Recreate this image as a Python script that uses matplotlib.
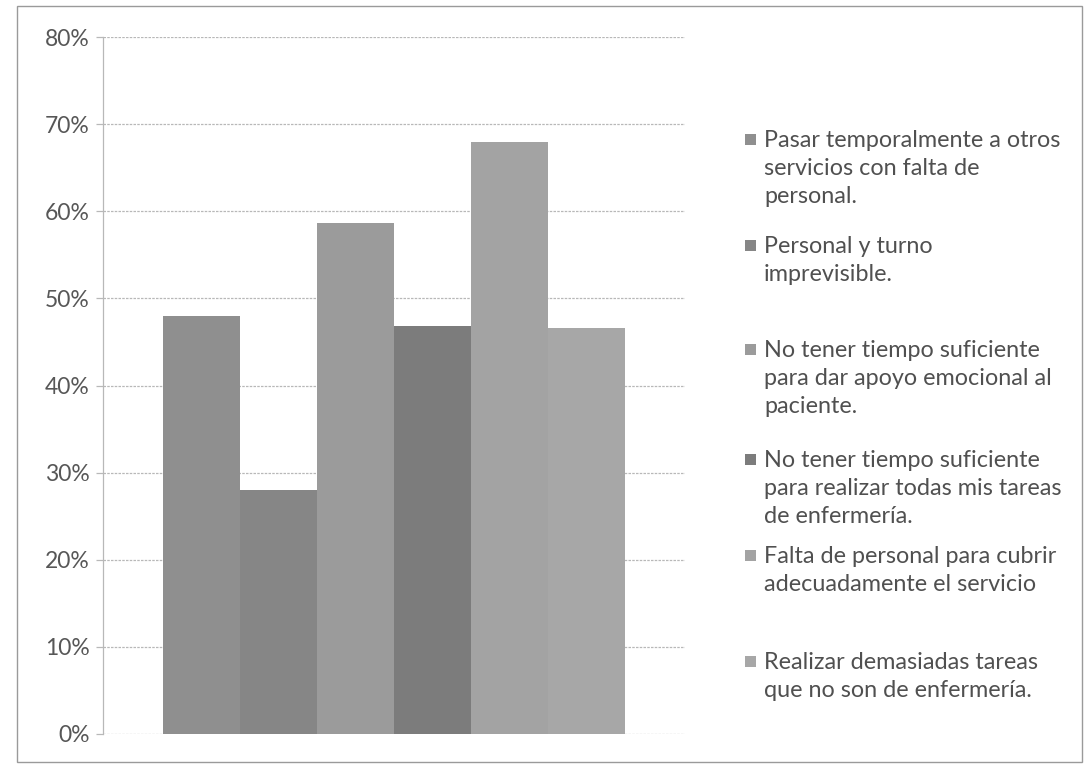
import matplotlib
matplotlib.use("Agg")
import matplotlib.pyplot as plt
from matplotlib.patches import Rectangle
from matplotlib.ticker import FuncFormatter

# Survey answers: share of nurses citing each cause of stress
labels = [
    "Pasar temporalmente a otros\nservicios con falta de\npersonal.",
    "Personal y turno\nimprevisible.",
    "No tener tiempo suficiente\npara dar apoyo emocional al\npaciente.",
    "No tener tiempo suficiente\npara realizar todas mis tareas\nde enfermería.",
    "Falta de personal para cubrir\nadecuadamente el servicio",
    "Realizar demasiadas tareas\nque no son de enfermería.",
]
values = [48.0, 28.0, 58.7, 46.8, 68.0, 46.6]
colors = ["#8f8f8f", "#868686", "#9b9b9b", "#7c7c7c", "#a3a3a3", "#a7a7a7"]
y_ticks = [0, 10, 20, 30, 40, 50, 60, 70, 80]

W, H = 1085, 769
fig = plt.figure(figsize=(W / 100, H / 100), dpi=100)
plt.rcParams["font.family"] = ["Lato", "DejaVu Sans"]

# outer chart frame
fig.add_artist(Rectangle((17 / W, 1 - 762 / H), (1082 - 17) / W, (762 - 6) / H,
                         transform=fig.transFigure, fill=False,
                         edgecolor="#9a9a9a", linewidth=1.0))

ax = fig.add_axes([103 / W, 1 - 734 / H, (685 - 103) / W, (734 - 37) / H])
x = list(range(len(values)))
ax.bar(x, values, width=1.0, color=colors, linewidth=0, zorder=2)

ax.set_ylim(0, 80)
ax.set_xlim(-1.28, len(values) - 1 + 1.28)
ax.set_yticks(y_ticks)
ax.yaxis.set_major_formatter(FuncFormatter(lambda v, _: f"{v:.0f}%"))
ax.set_xticks([])
ax.grid(axis="y", color="#b8b8b8", linewidth=0.9, linestyle=(0, (2, 1)), zorder=1)
for side in ("top", "right", "bottom"):
    ax.spines[side].set_visible(False)
ax.spines["left"].set_color("#b8b8b8")
ax.spines["left"].set_linewidth(0.9)
ax.tick_params(axis="y", length=5, width=0.9, color="#b8b8b8",
               labelsize=16.5, labelcolor="#575757", pad=4.5)

# legend drawn entry by entry
first_line_y = [140, 246, 350, 460, 556, 662]
for lab, col, yy in zip(labels, colors, first_line_y):
    fig.add_artist(Rectangle((745 / W, 1 - (yy + 5) / H), 11 / W, 11 / H,
                             transform=fig.transFigure, facecolor=col,
                             edgecolor="none"))
    fig.text(764 / W, 1 - (yy - 10) / H, lab, fontsize=16.8, color="#505050",
             va="top", ha="left", linespacing=1.42)

fig.savefig("out.png", dpi=100, facecolor="white")
